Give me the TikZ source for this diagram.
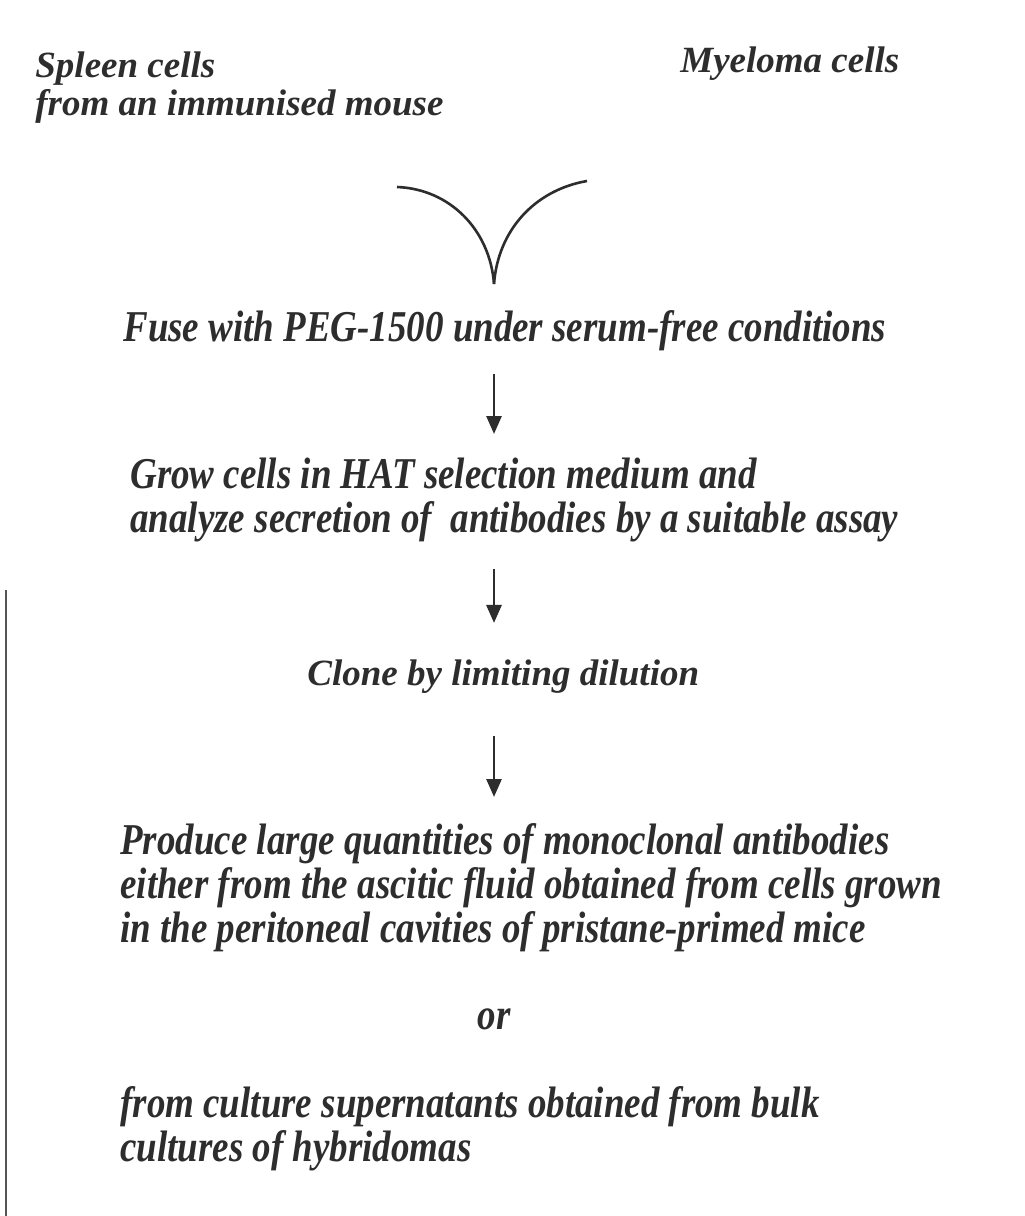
\documentclass[tikz,border=0pt]{standalone}
\usepackage{fontspec}
\setmainfont{Liberation Serif}
\newfontfamily\stepfont[FakeStretch=0.84]{Liberation Serif}
\usetikzlibrary{arrows.meta}
\definecolor{inkgray}{RGB}{45,45,45}
\definecolor{edgegray}{RGB}{85,85,85}

\begin{document}
\begin{tikzpicture}[x=0.5pt, y=-0.5pt,
    head/.style={inner sep=0pt, text=inkgray, align=left, font=\bfseries\itshape\fontsize{18.5}{19}\selectfont},
    stepbox/.style={inner sep=0pt, text=inkgray, align=left, font=\stepfont\bfseries\itshape\fontsize{22}{22}\selectfont},
    flow/.style={draw=inkgray, line width=1.4pt, -{Triangle[length=9pt,width=7.5pt]}},
    merge/.style={draw=inkgray, line width=1.3pt}]
  \useasboundingbox[fill=white] (0,0) rectangle (1024,1216);
  \draw[edgegray, line width=1pt] (6,590) -- (6,1216);

  \node[head, anchor=north west] (spleen) at (35,51) {Spleen cells\\from an immunised mouse};
  \node[head, anchor=base west] (myeloma) at (680,72) {Myeloma cells};

  \coordinate (vleft) at (397,187);
  \coordinate (vright) at (587,181);
  \coordinate (vtip) at (494,284);
  \draw[merge] (vleft) .. controls (450,189) and (490,230) .. (vtip);
  \draw[merge] (vright) .. controls (535,190) and (498,230) .. (vtip);

  \node[stepbox, anchor=north west] (fuse) at (123,310) {Fuse with PEG-1500 under serum-free conditions};
  \node[stepbox, anchor=north west] (grow) at (130,458) {Grow cells in HAT selection medium and\\analyze secretion of\ \ antibodies by a suitable assay};
  \node[head, anchor=base west] (clone) at (307,685) {Clone by limiting dilution};
  \node[stepbox, anchor=north west] (produce) at (120,823) {Produce large quantities of monoclonal antibodies\\either from the ascitic fluid obtained from cells grown\\in the peritoneal cavities of pristane-primed mice};
  \node[stepbox, anchor=base] (or) at (494,1029) {or};
  \node[stepbox, anchor=north west] (bulk) at (120,1086) {from culture supernatants obtained from bulk\\cultures of hybridomas};

  \draw[flow, shorten <=11.5pt, shorten >=12pt] (fuse.south -| vtip) -- (grow.north -| vtip);
  \draw[flow, shorten <=13pt, shorten >=18pt] (grow.south -| vtip) -- (clone.north -| vtip);
  \draw[flow, shorten <=21.5pt, shorten >=13pt] (clone.south -| vtip) -- (produce.north -| vtip);
\end{tikzpicture}
\end{document}
